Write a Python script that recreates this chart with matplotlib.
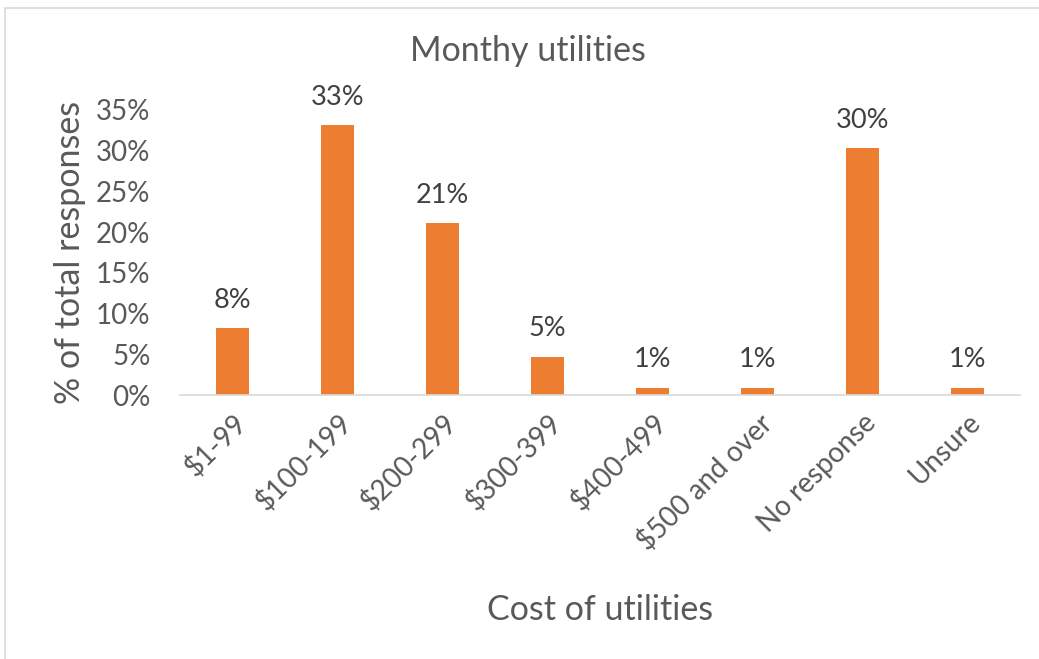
import matplotlib.pyplot as plt
from matplotlib.patches import Rectangle
from matplotlib.ticker import FuncFormatter

categories = ["$1-99", "$100-199", "$200-299", "$300-399", "$400-499",
              "$500 and over", "No response", "Unsure"]
shares = [8.2, 33.1, 21.1, 4.7, 0.9, 0.9, 30.3, 0.9]
labels = ["8%", "33%", "21%", "5%", "1%", "1%", "30%", "1%"]

plt.rcParams["font.family"] = ["Lato", "DejaVu Sans"]

bar_color = "#ED7D31"
text_color = "#595959"

fig = plt.figure(figsize=(10.39, 6.59), dpi=100)
ax = fig.add_axes([0.173, 0.4006, 0.809, 0.4325])

x = range(len(categories))
bars = ax.bar(x, shares, width=0.31, color=bar_color)
for b, s in zip(bars, labels):
    ax.annotate(s, (b.get_x() + b.get_width() / 2, b.get_height()),
                xytext=(0, 11), textcoords="offset points",
                ha="center", va="bottom", fontsize=19.5, color="#404040")

ax.set_xlim(-0.5, len(categories) - 0.5)
ax.set_ylim(0, 35)
ax.set_yticks(range(0, 36, 5))
ax.yaxis.set_major_formatter(FuncFormatter(lambda v, p: f"{v:.0f}%"))
ax.set_xticks(list(x))
ax.set_xticklabels(categories, rotation=45, ha="right", rotation_mode="anchor")

for side in ["top", "right", "left"]:
    ax.spines[side].set_visible(False)
ax.spines["bottom"].set_color("#D9D9D9")
ax.spines["bottom"].set_linewidth(1.2)
ax.tick_params(axis="both", length=0, labelsize=20, colors=text_color)
ax.tick_params(axis="y", pad=21)
ax.tick_params(axis="x", pad=10)

ax.set_ylabel("% of total responses", fontsize=24.5, color=text_color, labelpad=7)
ax.set_xlabel("Cost of utilities", fontsize=24.5, color=text_color, labelpad=28)
fig.text(0.508, 0.922, "Monthy utilities", ha="center", va="center",
         fontsize=24.5, color=text_color)

# light chart frame
fig.patches.append(Rectangle((5 / 1039, -0.01), 1.1, 1 - 8 / 659 + 0.01,
                             transform=fig.transFigure, fill=False,
                             edgecolor="#D9D9D9", linewidth=1.2))

fig.savefig("out.png", dpi=100)
